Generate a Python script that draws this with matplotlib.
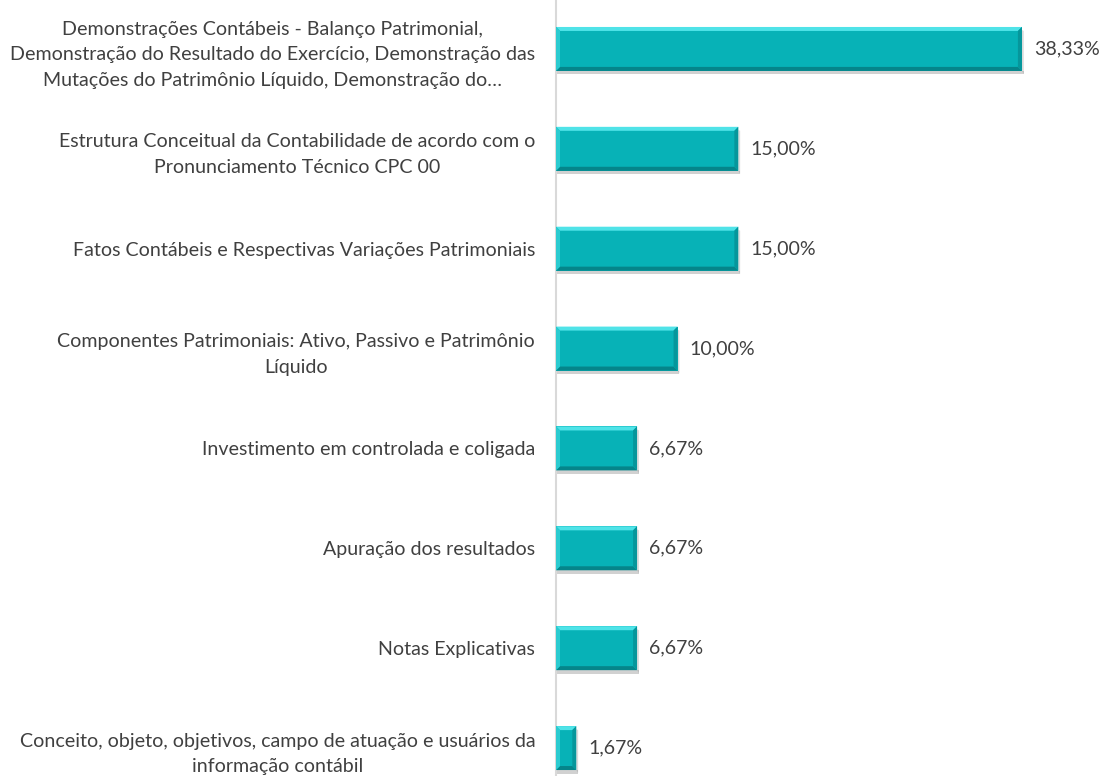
import matplotlib.pyplot as plt
from matplotlib.patches import Polygon

categories = [
    'Demonstrações Contábeis - Balanço Patrimonial,\nDemonstração do Resultado do Exercício, Demonstração das\nMutações do Patrimônio Líquido, Demonstração do…',
    'Estrutura Conceitual da Contabilidade de acordo com o\nPronunciamento Técnico CPC 00',
    'Fatos Contábeis e Respectivas Variações Patrimoniais',
    'Componentes Patrimoniais: Ativo, Passivo e Patrimônio\nLíquido',
    'Investimento em controlada e coligada',
    'Apuração dos resultados',
    'Notas Explicativas',
    'Conceito, objeto, objetivos, campo de atuação e usuários da\ninformação contábil',
]
values = [38.33, 15.00, 15.00, 10.00, 6.67, 6.67, 6.67, 1.67]
value_labels = ['38,33%', '15,00%', '15,00%', '10,00%', '6,67%', '6,67%', '6,67%', '1,67%']

plt.rcParams['font.family'] = ['Lato', 'DejaVu Sans']
text_color = '#404040'
fsize = 14.1

fig = plt.figure(figsize=(11.07, 7.76), dpi=100)
ax = fig.add_axes([556 / 1107, -22 / 776, 547 / 1107, 799 / 776])

ypos = list(range(len(values)))
bars = ax.barh(ypos, values, height=0.44, color='#07B2B7', zorder=3)
ax.set_xlim(0, 45)
ax.set_ylim(7.5, -0.5)

# bevel and shadow
bx = 4 / 12.16
by = 0.04
for rect in bars:
    x0 = rect.get_x()
    w = rect.get_width()
    y0 = rect.get_y()
    h = rect.get_height()
    x1, y1 = x0 + w, y0 + h
    bxx = min(bx, w / 2)
    # shadow (y axis inverted, y1 is lower on screen)
    ax.add_patch(Polygon([(x0 + 0.05, y1), (x1 + 0.15, y1), (x1 + 0.15, y1 + 0.035), (x0 + 0.05, y1 + 0.035)],
                         closed=True, color='#9a9a9a', alpha=0.45, lw=0, zorder=2))
    ax.add_patch(Polygon([(x1, y0 + 0.03), (x1 + 0.15, y0 + 0.04), (x1 + 0.15, y1 + 0.03), (x1, y1)],
                         closed=True, color='#9a9a9a', alpha=0.35, lw=0, zorder=2))
    # top (screen top = y0)
    ax.add_patch(Polygon([(x0, y0), (x1, y0), (x1 - bxx, y0 + by), (x0 + bxx, y0 + by)],
                         closed=True, color='#4FE3E8', lw=0, zorder=4))
    # bottom
    ax.add_patch(Polygon([(x0, y1), (x1, y1), (x1 - bxx, y1 - by), (x0 + bxx, y1 - by)],
                         closed=True, color='#05858A', lw=0, zorder=4))
    # left
    ax.add_patch(Polygon([(x0, y0), (x0 + bxx, y0 + by), (x0 + bxx, y1 - by), (x0, y1)],
                         closed=True, color='#2BCBD0', lw=0, zorder=4))
    # right
    ax.add_patch(Polygon([(x1, y0), (x1 - bxx, y0 + by), (x1 - bxx, y1 - by), (x1, y1)],
                         closed=True, color='#06969B', lw=0, zorder=4))

for y, v, lab in zip(ypos, values, value_labels):
    ax.text(v + 1.0, y, lab, va='center', ha='left', fontsize=fsize, color=text_color)

ax.set_yticks(ypos)
ax.set_yticklabels(categories, fontsize=fsize, color=text_color)
for t in ax.get_yticklabels():
    t.set_multialignment('center')
    t.set_linespacing(1.62)
ax.tick_params(axis='y', length=0, pad=15)
ax.set_xticks([])

for s in ['top', 'right', 'bottom']:
    ax.spines[s].set_visible(False)
ax.spines['left'].set_color('#d9d9d9')
ax.spines['left'].set_linewidth(1.5)
ax.set_facecolor('none')

fig.savefig('out.png', dpi=100)
